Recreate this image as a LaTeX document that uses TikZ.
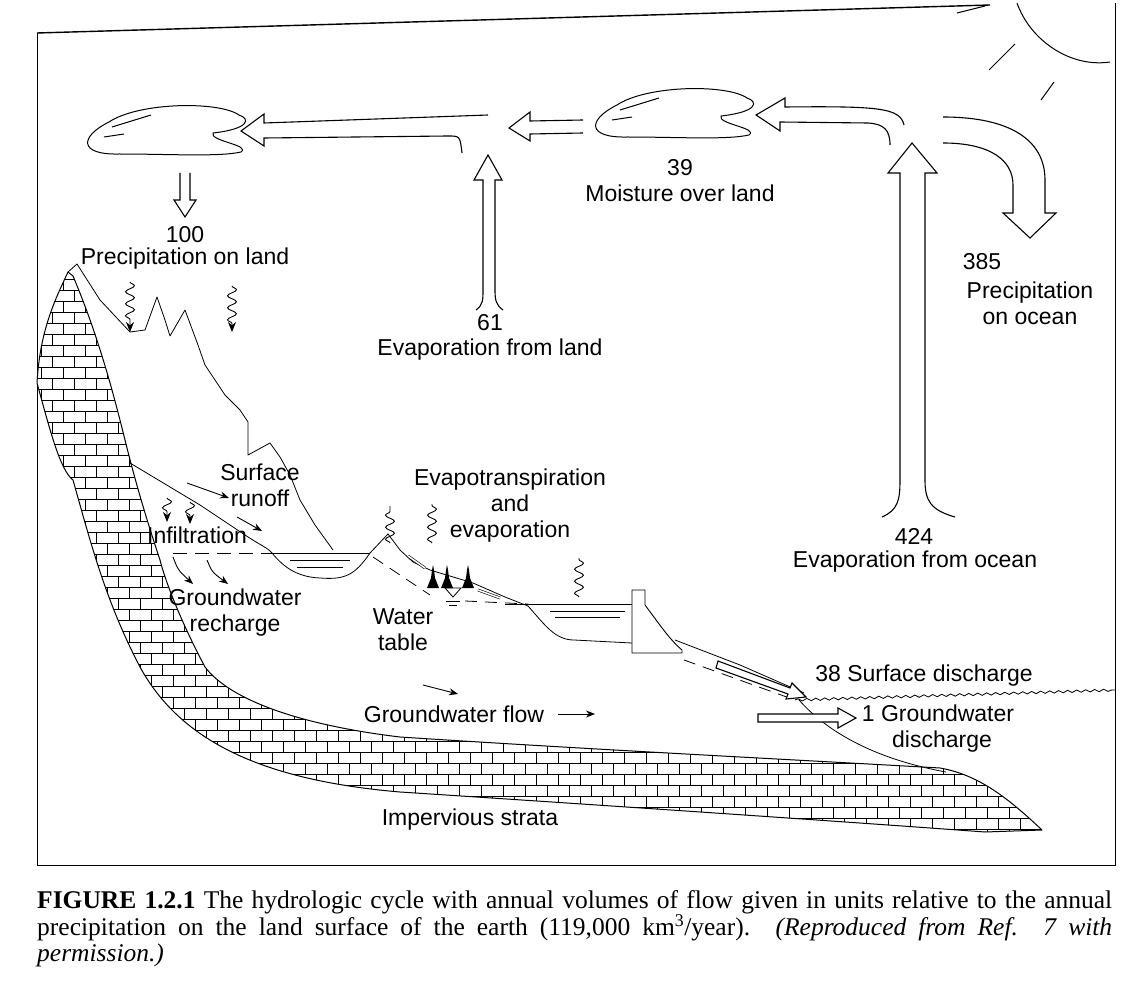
\documentclass[tikz,border=0pt]{standalone}
\usepackage{fontspec}
\setmainfont{Liberation Serif}
\newfontfamily\lab{Liberation Sans}
\usetikzlibrary{arrows.meta,decorations.pathmorphing}
\begin{document}
\begin{tikzpicture}[x=1pt,y=-1pt,
  lbl/.style={font=\lab\fontsize{23}{26}\selectfont, inner sep=0pt, align=center},
  ln/.style={line width=1pt, line join=round},
  hollow/.style={line width=1.1pt, line join=miter, fill=white},
  squig/.style={line width=0.9pt, decorate, decoration={snake, amplitude=4.5pt, segment length=12pt, post length=8pt}, -{Stealth[length=10pt,width=8pt]}},
  squigup/.style={line width=0.9pt, decorate, decoration={snake, amplitude=4.5pt, segment length=12pt}},
  sarrow/.style={line width=0.9pt, -{Stealth[length=9pt,width=7pt]}},
  cloudp/.pic={
    \draw[ln] (160,8) .. controls (140,-6) and (60,-5) .. (30,15) .. controls (0,30) and (0,48) .. (40,47) .. controls (90,47) and (140,50) .. (162,45) .. controls (172,38) and (130,34) .. (134,26) .. controls (170,22) and (172,12) .. (160,8);
    \draw[ln] (33,20) -- (72,8);
    \draw[ln] (25,30) -- (45,27);
  }]
\useasboundingbox (0,0) rectangle (1146,984);
\fill[white] (0,0) rectangle (1146,984);
% frame
\draw[line width=1.4pt] (37,33) -- (990,5);
\draw[line width=1pt] (37,33) -- (37,865) -- (1115,865) -- (1115,3);
% sun
\draw[ln] (1017,3) .. controls (1030,40) and (1070,68) .. (1110,62);
\draw[ln] (957,13) -- (985,6);
\draw[ln] (989,70) -- (1015,44);
\draw[ln] (1041,100) -- (1054,82);
% clouds
\pic at (79,107) {cloudp};
\pic at (587,90) {cloudp};
% hollow arrows
\draw[hollow, fill=none] (488,115) -- (264,123) -- (264,114) -- (241,131) -- (264,146) -- (264,138) -- (448,136) .. controls (460,136) .. (462,153);
\draw[hollow] (583,120) -- (530,121) -- (530,112) -- (509,128) -- (530,141) -- (530,134) -- (583,133);
\draw[hollow, fill=none] (904,125) .. controls (900,108) and (880,106) .. (785,107) -- (785,98) -- (756,115) -- (780,131) -- (780,122) -- (868,123) .. controls (884,124) and (890,130) .. (890,145);
\draw[hollow] (882,517) .. controls (898,510) and (900,500) .. (900,480) -- (900,173) -- (888,173) -- (912,143) -- (937,173) -- (925,173) -- (925,480) .. controls (925,500) and (930,510) .. (955,517);
\draw[hollow] (476,310) .. controls (483,305) and (483,300) .. (483,290) -- (483,180) -- (474,180) -- (488,155) -- (502,180) -- (495,180) -- (495,290) .. controls (495,300) and (496,305) .. (503,310);
\draw[hollow] (943,117) .. controls (1010,117) and (1045,140) .. (1045,180) -- (1045,213) -- (1056,213) -- (1030,238) -- (1003,213) -- (1013,213) -- (1013,185) .. controls (1013,160) and (990,143) .. (943,143);
\draw[hollow] (180,173) -- (180,200) -- (174,200) -- (185,217) -- (196,200) -- (190,200) -- (190,173);
% impervious strata with bricks
\begin{scope}
\clip (68,272) .. controls (55,300) and (40,330) .. (37,383) .. controls (50,430) and (60,470) .. (73,480) .. controls (90,540) and (105,600) .. (140,667) .. controls (180,740) and (260,780) .. (400,792) .. controls (600,805) and (850,822) .. (985,832) -- (1042,830) .. controls (1010,800) and (980,775) .. (940,768) .. controls (800,760) and (600,750) .. (400,737) .. controls (300,725) and (230,700) .. (205,667) .. controls (180,620) and (165,580) .. (160,560) .. controls (140,500) and (130,460) .. (125,440) .. controls (115,400) and (100,340) .. (73,276) -- cycle;
\fill[white] (30,260) rectangle (1050,840);
\foreach \r in {0,...,52} {
  \pgfmathsetmacro{\yy}{268+11*\r}
  \draw[line width=0.9pt] (30,\yy) -- (1050,\yy);
  \pgfmathsetmacro{\off}{mod(\r,2)*11}
  \foreach \c in {0,...,46} {
    \pgfmathsetmacro{\xx}{30+\off+22*\c}
    \draw[line width=0.9pt] (\xx,\yy) -- (\xx,\yy+11);
  }
}
\end{scope}
\draw[ln] (68,272) .. controls (55,300) and (40,330) .. (37,383) .. controls (50,430) and (60,470) .. (73,480) .. controls (90,540) and (105,600) .. (140,667) .. controls (180,740) and (260,780) .. (400,792) .. controls (600,805) and (850,822) .. (985,832) -- (1042,830) .. controls (1010,800) and (980,775) .. (940,768) .. controls (800,760) and (600,750) .. (400,737) .. controls (300,725) and (230,700) .. (205,667) .. controls (180,620) and (165,580) .. (160,560) .. controls (140,500) and (130,460) .. (125,440) .. controls (115,400) and (100,340) .. (73,276) -- cycle;
% mountains
\draw[line width=0.8pt, line join=round] (68,272) -- (77,264) -- (100,300) -- (130,332) -- (145,330) -- (157,297) -- (165,320) -- (170,336) -- (185,310) -- (198,345) -- (205,365) -- (215,380) -- (225,395) -- (240,410) -- (248,422) -- (248,455) -- (270,443) -- (280,457) -- (290,475) -- (300,500) -- (315,525) -- (333,550);
% land surface
\draw[line width=0.8pt] (130,463) -- (200,505) -- (245,535) .. controls (260,545) and (268,548) .. (272,553);
% lake
\draw[line width=0.8pt] (272,553) .. controls (282,565) and (295,577) .. (320,578) .. controls (345,580) and (355,575) .. (370,553);
\draw[line width=0.8pt] (270,553) -- (370,553);
\draw[line width=0.8pt] (290,560) -- (350,560);
\draw[line width=0.8pt] (297,567) -- (343,567);
\draw[line width=0.8pt, dash pattern=on 14pt off 8pt] (173,553) -- (270,553);
% hill and downslope
\draw[line width=0.8pt] (370,553) -- (388,534) -- (400,550) -- (413,562) -- (430,570) -- (473,583) -- (505,597) -- (528,606);
\draw[line width=0.6pt, double, double distance=1.5pt] (408,556) -- (425,568);
\draw[line width=0.6pt, double, double distance=1.5pt] (478,590) -- (500,598);
% reservoir
\draw[line width=0.8pt] (528,606) .. controls (545,625) and (555,640) .. (574,640) -- (632,643);
\draw[line width=0.8pt] (505,604) -- (632,604);
\draw[line width=0.8pt] (550,611) -- (625,611);
\draw[line width=0.8pt] (555,617) -- (620,617);
% dam
\draw[line width=0.9pt, fill=white] (632,653) -- (632,590) -- (645,590) -- (645,605) .. controls (660,625) and (670,640) .. (682,650) -- (682,653) -- cycle;
% downstream surface and coast
\draw[line width=0.8pt] (675,640) -- (740,665) -- (804,693);
\draw[line width=0.8pt] (799,700) .. controls (830,735) and (880,760) .. (946,772);
% water table dashed
\draw[line width=0.8pt, dash pattern=on 12pt off 8pt] (373,557) -- (430,595);
\draw[line width=0.8pt, dash pattern=on 12pt off 8pt] (465,601) -- (528,604);
\draw[line width=0.8pt, dash pattern=on 12pt off 8pt] (684,660) -- (795,700);
% water table symbol
\draw[line width=0.8pt] (445,588) -- (461,588) -- (453,597) -- cycle;
\draw[line width=0.8pt] (446,601) -- (460,601);
\draw[line width=0.8pt] (449,605) -- (457,605);
% trees
\foreach \tx in {433,447,468} {
  \fill (\tx-6,588) -- (\tx-2,578) -- (\tx-1,570) -- (\tx,565) -- (\tx+1,570) -- (\tx+2,578) -- (\tx+6,588) -- cycle;
}
% sea
\draw[line width=0.8pt, decorate, decoration={snake, amplitude=1.2pt, segment length=9pt}] (795,700) -- (1115,690);
% discharge arrows
\draw[hollow] (718,661) -- (790,688) -- (792,683) -- (806,697) -- (786,699) -- (788,694) -- (716,668) -- cycle;
\draw[hollow] (758,714) -- (838,714) -- (838,708) -- (856,718) -- (838,728) -- (838,722) -- (758,722) -- cycle;
% squiggles
\draw[squig] (130,282) -- (130,332);
\draw[squig] (232,286) -- (232,332);
\draw[squig] (167,498) -- (167,522);
\draw[squig] (190,502) -- (190,524);
\draw[squigup] (390,543) -- (390,506);
\draw[squigup] (432,543) -- (432,504);
\draw[squigup] (579,597) -- (579,558);
% small arrows
\draw[sarrow] (187,483) -- (229,498);
\draw[sarrow] (237,517) -- (262,531);
\draw[sarrow] (173,557) .. controls (178,570) .. (193,584);
\draw[sarrow] (207,560) .. controls (212,572) .. (228,584);
\draw[sarrow] (423,685) -- (458,694);
\draw[sarrow] (558,714) -- (595,714);
% labels
\node[lbl] (t100) at (185,235) {100};
\node[lbl] (tpl) at (185,259) {Precipitation on land};
\node[lbl] (t39) at (680,168) {39};
\node[lbl] (tml) at (680,193) {Moisture over land};
\node[lbl] (t61) at (490,323) {61};
\node[lbl] (tel) at (490,350) {Evaporation from land};
\node[lbl] (t385) at (982,262) {385};
\node[lbl] (tpo) at (1030,303) {Precipitation\\on ocean};
\node[lbl] (t424) at (914,536) {424};
\node[lbl] (teo) at (915,562) {Evaporation from ocean};
\node[lbl] (tsr) at (260,485) {Surface\\ runoff};
\node[lbl] (tet) at (510,506) {Evapotranspiration\\and\\evaporation};
\node[lbl] (tin) at (197,535) {Infiltration};
\node[lbl] (tgr) at (235,613) {Groundwater\\recharge};
\node[lbl] (twt) at (403,630) {Water\\table};
\node[lbl] (tsd) at (924,676) {38 Surface discharge};
\node[lbl] (tgd) at (938,713) {1 Groundwater};
\node[lbl] (tgd2) at (942,742) {discharge};
\node[lbl] (tgf) at (454,714) {Groundwater flow};
\node[lbl] (tis) at (470,820) {Impervious strata};
\node[anchor=north west, inner sep=0pt, text width=1075pt, align=justify, font=\fontsize{25.5}{26}\selectfont] (cap) at (37,890) {\textbf{FIGURE 1.2.1} The hydrologic cycle with annual volumes of flow given in units relative to the annual\linebreak precipitation on the land surface of the earth (119,000 km\textsuperscript{3}/year). \textit{(Reproduced from Ref. 7 with}\linebreak \textit{permission.)}};
\end{tikzpicture}
\end{document}
